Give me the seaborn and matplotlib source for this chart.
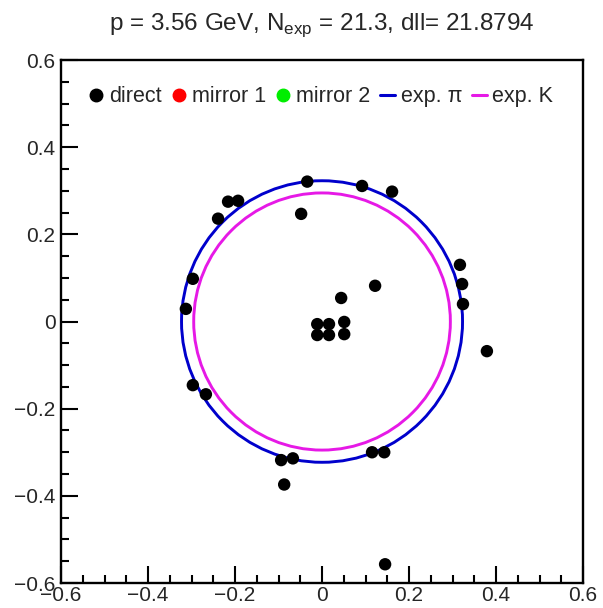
import matplotlib
matplotlib.use("Agg")
import matplotlib.pyplot as plt
from matplotlib.lines import Line2D
from matplotlib.patches import Circle
from matplotlib.ticker import MultipleLocator
import seaborn as sns
import pandas as pd

# direct hits (x, y)
direct_x = [-0.034, 0.092, 0.161, -0.048, -0.216, -0.193, -0.239, -0.297, -0.313,
            0.044, 0.122, 0.317, 0.322, 0.324, -0.011, 0.016, 0.051, -0.011, 0.016,
            0.051, 0.379, -0.297, -0.267, -0.094, -0.067, -0.087, 0.115, 0.143, 0.145]
direct_y = [0.321, 0.311, 0.298, 0.247, 0.275, 0.277, 0.236, 0.098, 0.029,
            0.054, 0.082, 0.130, 0.086, 0.040, -0.006, -0.006, -0.001, -0.031, -0.031,
            -0.029, -0.068, -0.146, -0.167, -0.318, -0.314, -0.374, -0.300, -0.300, -0.557]
ring_radii = {"exp. \u03c0": 0.323, "exp. K": 0.295}
ring_colors = {"exp. \u03c0": "#0000cc", "exp. K": "#e619e6"}
title = r"p = 3.56 GeV, N$_{\mathrm{exp}}$ = 21.3, dll= 21.8794"

sns.set_style("ticks")
plt.rcParams["font.family"] = ["Liberation Sans", "DejaVu Sans"]
plt.rcParams["mathtext.fontset"] = "custom"
plt.rcParams["mathtext.rm"] = "Liberation Sans"

fig = plt.figure(figsize=(6.03, 6.08), dpi=100)
ax = fig.add_axes([0.1012, 0.0411, 0.8657, 0.8602])

df = pd.DataFrame({"x": direct_x, "y": direct_y})
sns.scatterplot(data=df, x="x", y="y", ax=ax, color="black", s=80,
                edgecolor="none", zorder=3, legend=False)

for name, r in ring_radii.items():
    ax.add_patch(Circle((0, 0), r, fill=False, edgecolor=ring_colors[name],
                        linewidth=2.1, zorder=2))

ax.set_xlim(-0.6, 0.6)
ax.set_ylim(-0.6, 0.6)
ax.set_xlabel("")
ax.set_ylabel("")
ax.xaxis.set_major_locator(MultipleLocator(0.2))
ax.xaxis.set_minor_locator(MultipleLocator(0.05))
ax.yaxis.set_major_locator(MultipleLocator(0.2))
ax.yaxis.set_minor_locator(MultipleLocator(0.05))

def fmt(v, pos):
    if abs(v) < 1e-9:
        return "0"
    return ("%.1f" % v).replace("-", "\u2212")
ax.xaxis.set_major_formatter(plt.FuncFormatter(fmt))
ax.yaxis.set_major_formatter(plt.FuncFormatter(fmt))

ax.tick_params(which="both", direction="in", top=False, right=False,
               labelsize=15, width=1.5, color="black")
ax.tick_params(axis="x", pad=2)
ax.tick_params(axis="y", pad=4)
ax.tick_params(which="major", length=12)
ax.tick_params(which="minor", length=6)
for sp in ax.spines.values():
    sp.set_linewidth(1.7)
    sp.set_color("black")

ax.set_title(title, fontsize=17.5, pad=22)

handles = [
    Line2D([], [], marker="o", color="black", linestyle="none", markersize=9),
    Line2D([], [], marker="o", color="red", linestyle="none", markersize=9),
    Line2D([], [], marker="o", color="#00ee00", linestyle="none", markersize=9),
    Line2D([], [], color=ring_colors["exp. \u03c0"], linewidth=2.2),
    Line2D([], [], color=ring_colors["exp. K"], linewidth=2.2),
]
labels = ["direct", "mirror 1", "mirror 2", "exp. \u03c0", "exp. K"]
ax.legend(handles, labels, ncol=5, frameon=False, loc="center",
          bbox_to_anchor=(0.498, 0.93), fontsize=15.5, handlelength=0.7,
          handletextpad=0.25, columnspacing=0.45, borderaxespad=0)

fig.savefig("out.png", dpi=100)
